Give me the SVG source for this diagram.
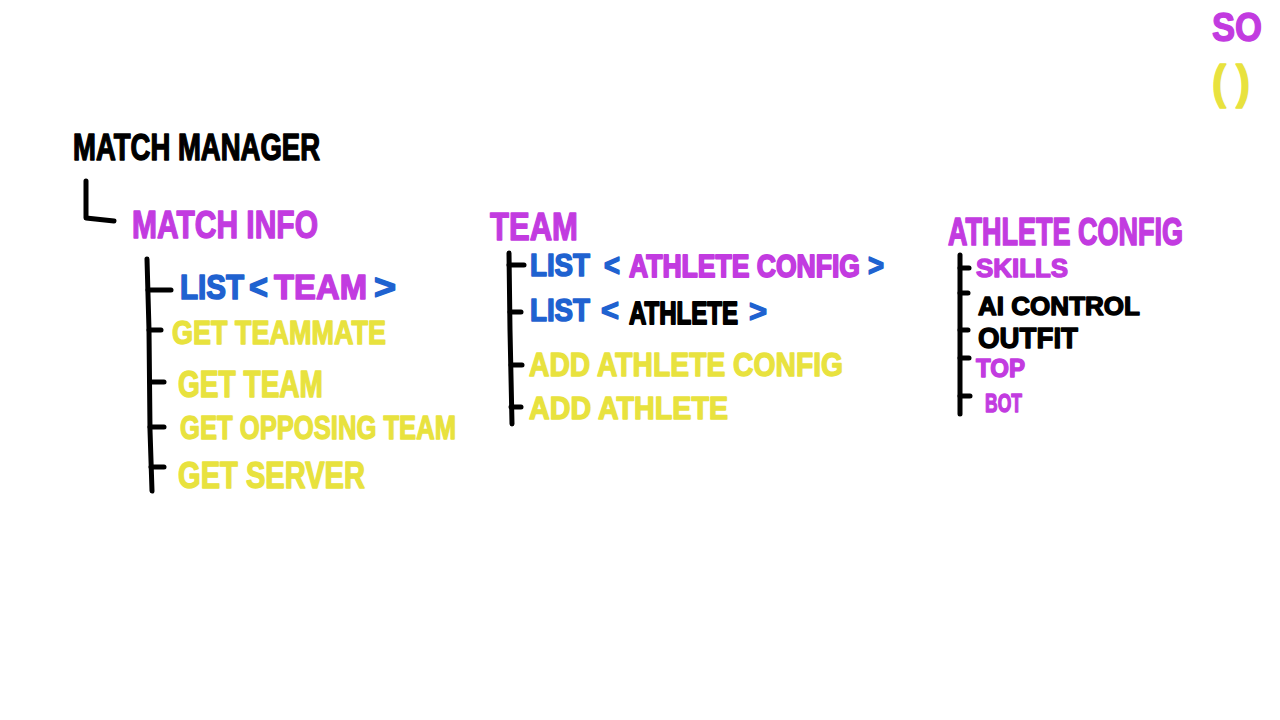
<svg xmlns="http://www.w3.org/2000/svg" width="1280" height="720" viewBox="0 0 1280 720">
<style>
text{font-family:"Liberation Sans",Arial,sans-serif;font-weight:bold;stroke-width:1.4;stroke-linejoin:round}
.k{fill:#000;stroke:#000}
.m{fill:#c23be0;stroke:#c23be0}
.b{fill:#1f62d0;stroke:#1f62d0}
.y{fill:#e8e23e;stroke:#e8e23e}
.ln{fill:none;stroke:#000;stroke-width:5;stroke-linecap:round;stroke-linejoin:round}
</style>
<rect width="1280" height="720" fill="#fff"/>
<g id="connectors">
<path class="ln" d="M86,181 L86,218 L114,221"/>
<path class="ln" d="M147,259 L149,330 L150,430 L152,491"/>
<path class="ln" d="M148,290 L171,290"/>
<path class="ln" d="M149,330 L161,330"/>
<path class="ln" d="M150,382 L164,382"/>
<path class="ln" d="M150,427 L164,427"/>
<path class="ln" d="M151,467 L164,467"/>
<path class="ln" d="M509,253 L510,330 L512,424"/>
<path class="ln" d="M509,265 L524,265"/>
<path class="ln" d="M510,312 L521,312"/>
<path class="ln" d="M511,365 L522,365"/>
<path class="ln" d="M511,407 L521,407"/>
<path class="ln" d="M960,255 L960,414"/>
<path class="ln" d="M960,268 L969,268"/>
<path class="ln" d="M960,293 L968,293"/>
<path class="ln" d="M960,330 L968,330"/>
<path class="ln" d="M960,358 L969,358"/>
<path class="ln" d="M960,396 L970,396"/>
</g>
<g id="match-manager">
<text class="k" x="73" y="160" font-size="36" textLength="247" lengthAdjust="spacingAndGlyphs">MATCH MANAGER</text>
</g>
<g id="match-info">
<text class="m" x="132" y="238" font-size="38" textLength="186" lengthAdjust="spacingAndGlyphs">MATCH INFO</text>
<text class="b" transform="translate(180,299) scale(1,1.22)" font-size="29.5" textLength="64" lengthAdjust="spacingAndGlyphs">LIST</text>
<text class="b" transform="translate(249,299) scale(1,1.125)" font-size="32" textLength="19" lengthAdjust="spacingAndGlyphs">&lt;</text>
<text class="m" transform="translate(274,299) scale(1,1.1)" font-size="32.7" textLength="93" lengthAdjust="spacingAndGlyphs">TEAM</text>
<text class="b" transform="translate(374,299) scale(1,1.125)" font-size="32" textLength="22" lengthAdjust="spacingAndGlyphs">&gt;</text>
<text class="y" x="172" y="344" font-size="34" textLength="214" lengthAdjust="spacingAndGlyphs">GET TEAMMATE</text>
<text class="y" x="178" y="397" font-size="36" textLength="145" lengthAdjust="spacingAndGlyphs">GET TEAM</text>
<text class="y" x="180" y="439" font-size="34" textLength="276" lengthAdjust="spacingAndGlyphs">GET OPPOSING TEAM</text>
<text class="y" x="178" y="488" font-size="36" textLength="187" lengthAdjust="spacingAndGlyphs">GET SERVER</text>
</g>
<g id="team">
<text class="m" x="490" y="240" font-size="38" textLength="88" lengthAdjust="spacingAndGlyphs">TEAM</text>
<text class="b" transform="translate(530,276) scale(1,1.16)" font-size="27.5" textLength="60" lengthAdjust="spacingAndGlyphs">LIST</text>
<text class="b" transform="translate(604,276) scale(1,1.185)" font-size="27" textLength="16" lengthAdjust="spacingAndGlyphs">&lt;</text>
<text class="m" transform="translate(629,277) scale(1,1.32)" font-size="24.3" textLength="231" lengthAdjust="spacingAndGlyphs">ATHLETE CONFIG</text>
<text class="b" transform="translate(868,276) scale(1,1.185)" font-size="27" textLength="16" lengthAdjust="spacingAndGlyphs">&gt;</text>
<text class="b" transform="translate(530,321) scale(1,1.16)" font-size="27.5" textLength="60" lengthAdjust="spacingAndGlyphs">LIST</text>
<text class="b" transform="translate(601,321) scale(1,1.067)" font-size="30" textLength="18" lengthAdjust="spacingAndGlyphs">&lt;</text>
<text class="k" transform="translate(629,324) scale(1,1.36)" font-size="23.5" textLength="109" lengthAdjust="spacingAndGlyphs">ATHLETE</text>
<text class="b" transform="translate(749,322) scale(1,1.067)" font-size="30" textLength="18" lengthAdjust="spacingAndGlyphs">&gt;</text>
<text class="y" x="529" y="376" font-size="34" textLength="314" lengthAdjust="spacingAndGlyphs">ADD ATHLETE CONFIG</text>
<text class="y" x="529" y="419" font-size="32" textLength="199" lengthAdjust="spacingAndGlyphs">ADD ATHLETE</text>
</g>
<g id="athlete-config">
<text class="m" transform="translate(948,245) scale(1,1.2)" font-size="33" textLength="235" lengthAdjust="spacingAndGlyphs">ATHLETE CONFIG</text>
<text class="m" x="976" y="277" font-size="26" textLength="92" lengthAdjust="spacingAndGlyphs">SKILLS</text>
<text class="k" x="978" y="315" font-size="26" textLength="162" lengthAdjust="spacingAndGlyphs">AI CONTROL</text>
<text class="k" x="978" y="348" font-size="30" textLength="100" lengthAdjust="spacingAndGlyphs">OUTFIT</text>
<text class="m" x="976" y="377" font-size="26" textLength="49" lengthAdjust="spacingAndGlyphs">TOP</text>
<text class="m" x="985" y="412" font-size="26" textLength="37" lengthAdjust="spacingAndGlyphs">BOT</text>
</g>
<g id="legend">
<text class="m" x="1212" y="41" font-size="40" textLength="50" lengthAdjust="spacingAndGlyphs">SO</text>
<text class="y" x="1212" y="98" font-size="46" textLength="14" lengthAdjust="spacingAndGlyphs">(</text>
<text class="y" x="1236" y="98" font-size="46" textLength="14" lengthAdjust="spacingAndGlyphs">)</text>
</g>
</svg>
